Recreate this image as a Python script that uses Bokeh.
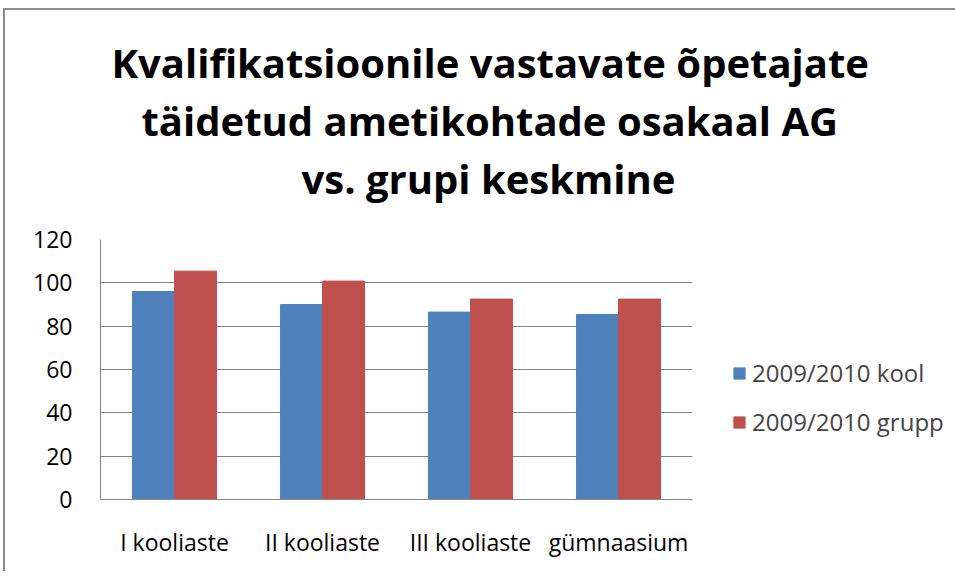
from bokeh.plotting import figure
from bokeh.models import Title, Legend, LegendItem, ColumnDataSource, FactorRange
from bokeh.transform import dodge
from bokeh.embed import file_html
from bokeh.resources import INLINE

categories = ["I kooliaste", "II kooliaste", "III kooliaste", "gümnaasium"]
kool = [96.0, 90.0, 86.5, 85.4]
grupp = [105.4, 100.8, 92.5, 92.5]
series_names = ["2009/2010 kool", "2009/2010 grupp"]
title_lines = ["Kvalifikatsioonile vastavate õpetajate",
               "täidetud ametikohtade osakaal AG",
               "vs. grupi keskmine"]
title_offsets = [11, 41, 201]
y_ticks = [0, 20, 40, 60, 80, 100, 120]

src = ColumnDataSource(dict(cat=categories, kool=kool, grupp=grupp))

FONT = "Open Sans"
p = figure(x_range=FactorRange(*categories), y_range=(0, 120),
           frame_width=592, frame_height=260,
           output_backend="svg", toolbar_location=None,
           min_border_left=95, min_border_right=255, min_border_top=229,
           min_border_bottom=72)
p.title = None

bw = 0.284
r1 = p.vbar(x=dodge("cat", -bw / 2, range=p.x_range), top="kool", width=bw,
            source=src, fill_color="#4F81BD", line_color="#4F81BD")
r2 = p.vbar(x=dodge("cat", bw / 2, range=p.x_range), top="grupp", width=bw,
            source=src, fill_color="#C0504D", line_color="#C0504D")

# spacer between the title block and the plot area
p.add_layout(Title(text=" ", text_font=FONT, text_font_size="18px",
                   standoff=7), "above")
# titles: add bottom line first so it sits closest to the plot
for t, off in reversed(list(zip(title_lines, title_offsets))):
    p.add_layout(Title(text=t, align="left", offset=off,
                       text_font=FONT, text_font_size="40px",
                       text_font_style="bold", text_color="#000000",
                       standoff=1), "above")

p.outline_line_color = None
p.xgrid.grid_line_color = None
p.ygrid.grid_line_color = "#868686"
p.ygrid.grid_line_width = 1
p.yaxis.ticker = y_ticks
p.yaxis.axis_line_color = "#868686"
p.xaxis.axis_line_color = "#868686"
for ax in (p.xaxis[0], p.yaxis[0]):
    ax.major_tick_line_color = None
    ax.minor_tick_line_color = None
    ax.major_label_text_font = FONT
    ax.major_label_text_font_size = "23px"
    ax.major_label_text_color = "#000000"
p.yaxis.major_label_standoff = 22
p.xaxis.major_label_standoff = 20

legend = Legend(items=[LegendItem(label=series_names[0], renderers=[r1]),
                       LegendItem(label=series_names[1], renderers=[r2])],
                location=(40, 61), orientation="vertical",
                label_text_font=FONT, label_text_font_size="24px",
                glyph_width=14, glyph_height=14, label_standoff=6,
                spacing=16, padding=0, margin=0,
                border_line_color=None, background_fill_alpha=0)
p.add_layout(legend, "right")

p.styles = {"border-top": "2px solid #8c8c8c", "border-left": "2px solid #8c8c8c",
            "margin-top": "8px", "margin-left": "3px"}

open("out.html", "w").write(file_html(p, INLINE))
